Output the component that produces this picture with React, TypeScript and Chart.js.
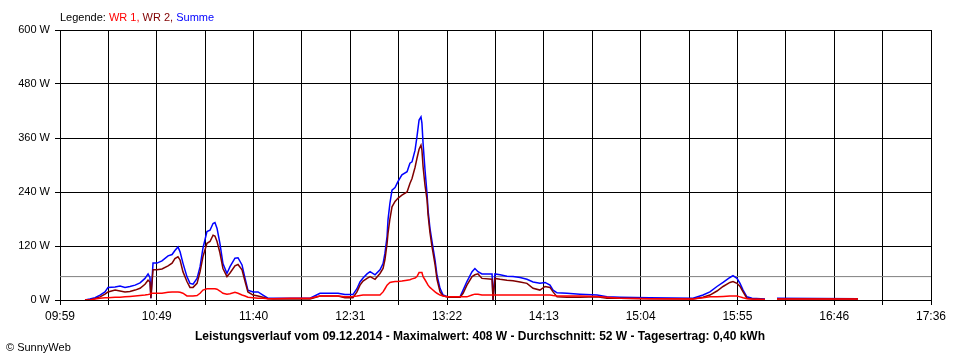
import React, { useEffect, useRef } from 'react';
import { Chart, registerables } from 'chart.js';

Chart.register(...registerables);

const FONT = '"Liberation Sans", Arial, Helvetica, sans-serif';

// Time axis: minutes after 09:59, full span to 17:36
const spanMinutes = 457;
const gridDivisions = 18;
const xTickLabels = ['09:59', '10:49', '11:40', '12:31', '13:22', '14:13', '15:04', '15:55', '16:46', '17:36'];

// Sample times (minutes after 09:59)
const minutes = [
  13.1, 15.7, 18.4, 21.0, 23.6, 25.2, 28.9, 31.5, 34.1, 36.7,
  39.4, 42.0, 44.6, 46.2, 47.2, 47.7, 48.8, 50.9, 53.5, 56.7,
  58.8, 60.3, 61.9, 63.0, 64.5, 66.6, 68.2, 69.8, 71.9, 73.5,
  75.0, 77.1, 78.7, 80.3, 81.3, 82.4, 83.9, 85.5, 87.6, 89.2,
  91.8, 93.4, 95.5, 97.1, 98.6, 101.3, 103.9, 106.5, 109.1, 111.8,
  120.7, 131.2, 136.4, 145.9, 149.5, 153.7, 155.8, 157.4, 159.0, 161.1,
  162.7, 165.3, 167.9, 169.5, 170.5, 171.6, 172.1, 173.1, 174.2, 175.8,
  177.3, 179.4, 182.1, 183.6, 184.7, 186.3, 187.3, 188.4, 189.4, 189.9,
  190.5, 191.5, 192.6, 193.1, 194.1, 195.2, 196.8, 197.8, 199.4, 201.0,
  203.6, 209.9, 211.5, 213.5, 216.2, 217.7, 219.3, 221.4, 226.7, 227.2,
  228.2, 230.9, 234.5, 237.7, 241.4, 245.0, 248.2, 251.8, 254.5, 257.1,
  258.7, 260.8, 266.0, 272.8, 281.8, 287.0, 293.8, 309.6, 332.1, 337.4,
  341.0, 344.7, 347.9, 351.5, 353.1, 355.2, 356.8, 358.4, 360.4, 363.1,
  369.9, 373.1, 376.2, 418.7,
];

// WR 1 (W)
const wr1 = [
  0, 0, 2, 4, 5, 5, 6, 6, 7, 8,
  9, 10, 11, 12, 13, 15, 15, 15, 15, 17,
  18, 18, 18, 17, 15, 9, 9, 9, 10, 15,
  22, 25, 25, 25, 25, 24, 20, 15, 13, 14,
  17, 15, 11, 9, 6, 5, 4, 4, 3, 3,
  4, 4, 9, 9, 7, 8, 9, 10, 11, 11,
  11, 11, 11, 18, 25, 33, 35, 39, 40, 41,
  41, 42, 44, 45, 47, 49, 52, 61, 61, 61,
  52, 45, 37, 33, 28, 24, 18, 15, 11, 9,
  7, 7, 7, 7, 11, 13, 13, 11, 11, 11,
  11, 11, 11, 11, 11, 11, 11, 11, 11, 11,
  10, 9, 9, 9, 8, 6, 4, 3, 2, 5,
  7, 7, 8, 9, 9, 9, 7, 5, 3, 2,
  1, null, 2, 2,
];

// WR 2 (W)
const wr2 = [
  0, 0, 3, 7, 13, 18, 22, 20, 18, 19,
  22, 26, 35, 44, 40, 4, 67, 67, 69, 76,
  82, 92, 96, 89, 63, 41, 28, 28, 37, 63,
  96, 126, 130, 144, 142, 130, 105, 70, 52, 60,
  76, 79, 67, 41, 18, 11, 9, 6, 3, 2,
  2, 2, 9, 9, 5, 5, 18, 33, 42, 48,
  52, 46, 59, 70, 90, 125, 148, 180, 207, 219,
  226, 233, 240, 259, 270, 295, 315, 335, 344, 333,
  296, 255, 222, 190, 150, 118, 78, 46, 18, 9,
  6, 6, 15, 33, 52, 56, 58, 48, 46, 0,
  48, 46, 44, 43, 40, 37, 26, 22, 30, 28,
  18, 7, 6, 6, 7, 4, 4, 3, 2, 6,
  11, 20, 30, 39, 41, 37, 30, 18, 4, 2,
  1, null, 2, 2,
];

// Summe (W)
const summe = [
  0, 2, 5, 11, 18, 28, 29, 31, 28, 30,
  33, 38, 48, 58, 50, 4, 82, 82, 87, 98,
  101, 110, 118, 107, 82, 52, 37, 35, 48, 74,
  115, 152, 155, 170, 172, 159, 126, 81, 59, 74,
  93, 94, 78, 48, 22, 18, 18, 11, 4, 4,
  4, 4, 15, 15, 12, 12, 25, 40, 49, 58,
  63, 56, 67, 81, 104, 141, 178, 215, 244, 250,
  263, 278, 285, 304, 307, 333, 363, 400, 407, 393,
  348, 290, 235, 200, 160, 130, 88, 55, 26, 11,
  7, 7, 22, 41, 63, 70, 63, 58, 58, 0,
  58, 56, 53, 52, 50, 46, 40, 37, 39, 33,
  22, 16, 15, 13, 11, 7, 6, 5, 4, 11,
  18, 30, 39, 50, 54, 48, 37, 22, 7, 4,
  2, null, 4, 3,
];

const averageW = 52;

export default function App() {
  const ref = useRef<HTMLCanvasElement | null>(null);

  useEffect(() => {
    document.body.style.margin = '0';
    const canvas = ref.current;
    if (!canvas) return;
    const pts = (arr: (number | null)[]) => minutes.map((m, i) => ({ x: m, y: arr[i] }));
    const chart = new Chart(canvas, {
      type: 'line',
      data: {
        datasets: [
          { label: 'WR 1', data: pts(wr1) as any, borderColor: '#ff0000', borderWidth: 1.5, pointRadius: 0, tension: 0, order: 0 },
          { label: 'WR 2', data: pts(wr2) as any, borderColor: '#800000', borderWidth: 1.5, pointRadius: 0, tension: 0, order: 1 },
          { label: 'Summe', data: pts(summe) as any, borderColor: '#0000ff', borderWidth: 1.5, pointRadius: 0, tension: 0, order: 2 },
          {
            label: 'Durchschnitt',
            data: [{ x: 0, y: averageW }, { x: spanMinutes, y: averageW }] as any,
            borderColor: '#808080', borderWidth: 1, pointRadius: 0, order: 3,
          },
        ],
      },
      options: {
        responsive: false,
        animation: false,
        events: [],
        layout: { padding: { left: 0, right: 29, top: 30, bottom: 0 } },
        plugins: { legend: { display: false }, tooltip: { enabled: false }, title: { display: false } },
        scales: {
          x: {
            type: 'linear',
            min: 0,
            max: spanMinutes,
            afterBuildTicks: (s: any) => {
              const t = [];
              for (let i = 0; i <= gridDivisions; i++) t.push({ value: (i * spanMinutes) / gridDivisions });
              s.ticks = t;
            },
            afterFit: (s: any) => { s.height = 60; },
            ticks: {
              autoSkip: false,
              maxRotation: 0,
              minRotation: 0,
              padding: 4,
              color: '#000',
              font: { family: FONT, size: 12 },
              callback: (_v: any, i: number) => (i % 2 === 0 ? xTickLabels[i / 2] : ''),
            },
            grid: { color: '#000', lineWidth: 1, tickLength: 5, tickColor: '#000' },
            border: { color: '#000', width: 1 },
          },
          y: {
            min: 0,
            max: 600,
            afterFit: (s: any) => { s.width = 60; },
            ticks: {
              stepSize: 120,
              padding: 5,
              color: '#000',
              font: { family: FONT, size: 11 },
              callback: (v: any) => `${v} W`,
            },
            grid: { color: '#000', lineWidth: 1, tickLength: 5, tickColor: '#000' },
            border: { color: '#000', width: 1 },
          },
        },
      },
    });
    return () => chart.destroy();
  }, []);

  return (
    <div style={{ position: 'relative', width: 960, height: 360, background: '#fff', fontFamily: FONT }}>
      <canvas ref={ref} width={960} height={360} style={{ display: 'block', width: 960, height: 360 }} />
      <div style={{ position: 'absolute', left: 60, top: 12, fontSize: 11, lineHeight: '11px', whiteSpace: 'nowrap', color: '#000' }}>
        Legende: <span style={{ color: '#ff0000' }}>WR 1,</span> <span style={{ color: '#800000' }}>WR 2,</span>{' '}
        <span style={{ color: '#0000ff' }}>Summe</span>
      </div>
      <div style={{ position: 'absolute', left: 0, width: 960, top: 330, textAlign: 'center', fontSize: 12, fontWeight: 'bold', lineHeight: '12px', whiteSpace: 'nowrap', color: '#000' }}>
        Leistungsverlauf vom 09.12.2014 - Maximalwert: 408 W - Durchschnitt: 52 W - Tagesertrag: 0,40 kWh
      </div>
      <div style={{ position: 'absolute', left: 6, top: 342, fontSize: 11, lineHeight: '11px', whiteSpace: 'nowrap', color: '#000' }}>
        © SunnyWeb
      </div>
    </div>
  );
}
